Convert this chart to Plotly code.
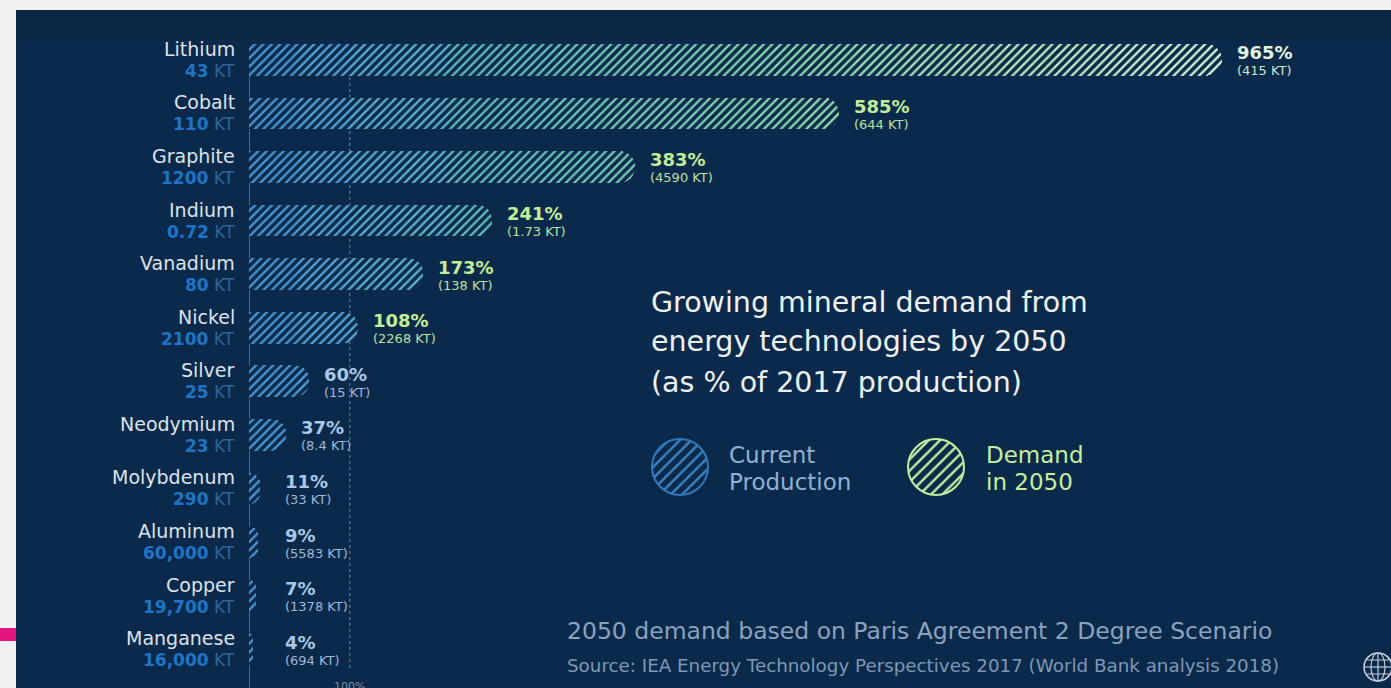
import plotly.graph_objects as go

# ---- data -------------------------------------------------------------
minerals = ["Lithium", "Cobalt", "Graphite", "Indium", "Vanadium", "Nickel",
            "Silver", "Neodymium", "Molybdenum", "Aluminum", "Copper", "Manganese"]
production_kt = ["43", "110", "1200", "0.72", "80", "2100",
                 "25", "23", "290", "60,000", "19,700", "16,000"]
demand_pct = [965, 585, 383, 241, 173, 108, 60, 37, 11, 9, 7, 4]
demand_kt = ["415", "644", "4590", "1.73", "138", "2268",
             "15", "8.4", "33", "5583", "1378", "694"]

# ---- canvas geometry --------------------------------------------------
FIG_W, FIG_H = 1391, 688
L, T = 249, 33
PW, PH = 1008, 643
R, B = FIG_W - L - PW, FIG_H - T - PH
XMAX = 1000

BG = "#0b2a4b"
FONT = "DejaVu Sans"


def px_x(px):
    return (px - L) / PW


def px_y(py):
    return (T + PH - py) / PH


def hex_rgb(h):
    h = h.lstrip("#")
    return tuple(int(h[i:i + 2], 16) for i in (0, 2, 4))


# colour ramp along the percentage axis (blue -> teal -> pale green)
STOPS = [(0, "#4690d6"), (100, "#58a8d8"), (250, "#62c0bc"),
         (500, "#82d6ac"), (750, "#b4eabb"), (1000, "#e2f8de")]


def ramp(v):
    for (a, ca), (b, cb) in zip(STOPS[:-1], STOPS[1:]):
        if a <= v <= b:
            t = (v - a) / (b - a)
            ra, rb = hex_rgb(ca), hex_rgb(cb)
            c = [round(x + (y - x) * t) for x, y in zip(ra, rb)]
            return "rgb(%d,%d,%d)" % tuple(c)
    return STOPS[-1][1]


def pct_color(v):
    if v >= 900:
        return "#e3f4da"
    if v >= 100:
        return "#c2ee97"
    return "#a9c7e6"


def sub_color(v):
    if v >= 900:
        return "#c9e6c6"
    if v >= 100:
        return "#b9e2a0"
    return "#9db9d8"


fig = go.Figure()

# hatched bars, split into colour bands so the stripes shift from blue to green
band = 50
for lo in range(0, XMAX, band):
    hi = lo + band
    seg = [max(0, min(v, hi) - lo) for v in demand_pct]
    fig.add_trace(go.Bar(
        y=minerals, x=seg, orientation="h",
        marker=dict(color=BG, line=dict(width=0),
                    pattern=dict(shape="/", fgcolor=ramp(lo + band / 2), fgopacity=1,
                                 bgcolor=BG, size=6, solidity=0.38)),
        hoverinfo="skip", showlegend=False,
    ))

# legend glyphs: hatched discs
for cx, col, edge in [(680, "#3d84c4", "#2f78bd"), (936, "#c4ee9f", "#c4ee9f")]:
    r = 28
    fig.add_trace(go.Pie(
        values=[1], sort=False, textinfo="none", hoverinfo="skip",
        showlegend=False,
        domain=dict(x=[px_x(cx - r), px_x(cx + r)], y=[px_y(467 + r), px_y(467 - r)]),
        marker=dict(colors=[BG], line=dict(color=edge, width=2),
                    pattern=dict(shape="/", fgcolor=col, fgopacity=1, bgcolor=BG,
                                 size=8, solidity=0.3)),
    ))

ann = []
for name, prod, pct, dem in zip(minerals, production_kt, demand_pct, demand_kt):
    ann.append(dict(x=px_x(237), xref="paper", y=name, yref="y", xanchor="right",
                    yanchor="middle", yshift=11, showarrow=False, text=name,
                    font=dict(family=FONT, size=19, color="#dbe3ec")))
    ann.append(dict(x=px_x(237), xref="paper", y=name, yref="y", xanchor="right",
                    yanchor="middle", yshift=-11, showarrow=False,
                    text="<b>%s</b> <span style='color:#2d6499'>KT</span>" % prod,
                    font=dict(family=FONT, size=17, color="#1f74c4")))
    lx = max(pct, 21)
    ann.append(dict(x=lx, xref="x", y=name, yref="y", xanchor="left", xshift=13,
                    yanchor="middle", yshift=7, showarrow=False,
                    text="<b>%d%%</b>" % pct,
                    font=dict(family=FONT, size=18, color=pct_color(pct))))
    ann.append(dict(x=lx, xref="x", y=name, yref="y", xanchor="left", xshift=13,
                    yanchor="middle", yshift=-11, showarrow=False,
                    text="(%s KT)" % dem,
                    font=dict(family=FONT, size=13, color=sub_color(pct))))

# headline
for i, line in enumerate(["Growing mineral demand from",
                          "energy technologies by 2050",
                          "(as % of 2017 production)"]):
    ann.append(dict(x=px_x(649), xref="paper", y=px_y(302 + 40 * i), yref="paper",
                    xanchor="left", yanchor="middle", showarrow=False, text=line,
                    font=dict(family=FONT, size=28.5, color="#eef2f7")))

# legend labels
for x0, lines, col in [(727, ["Current", "Production"], "#8eb1d6"),
                       (984, ["Demand", "in 2050"], "#c4ee9f")]:
    for i, line in enumerate(lines):
        ann.append(dict(x=px_x(x0), xref="paper", y=px_y(455 + 27 * i), yref="paper",
                        xanchor="left", yanchor="middle", showarrow=False, text=line,
                        font=dict(family=FONT, size=23, color=col)))

# footnotes
ann.append(dict(x=px_x(565), xref="paper", y=px_y(631), yref="paper", xanchor="left",
                yanchor="middle", showarrow=False,
                text="2050 demand based on Paris Agreement 2 Degree Scenario",
                font=dict(family=FONT, size=23.5, color="#8aa2be")))
ann.append(dict(x=px_x(565), xref="paper", y=px_y(665), yref="paper", xanchor="left",
                yanchor="middle", showarrow=False,
                text="Source: IEA Energy Technology Perspectives 2017 (World Bank analysis 2018)",
                font=dict(family=FONT, size=18.3, color="#7f98b5")))
# 100% marker label
ann.append(dict(x=100, xref="x", y=px_y(686), yref="paper", xanchor="center",
                yanchor="middle", showarrow=False, text="100%",
                font=dict(family=FONT, size=11, color="#7f93ab")))

shapes = [
    # navy panel
    dict(type="rect", xref="paper", yref="paper", x0=px_x(16), x1=px_x(FIG_W + 5),
         y0=px_y(FIG_H + 5), y1=px_y(10), fillcolor=BG, line=dict(width=0), layer="below"),
    # darker band at the top of the panel
    dict(type="rect", xref="paper", yref="paper", x0=px_x(16), x1=px_x(FIG_W + 5),
         y0=px_y(40), y1=px_y(10), fillcolor="#09243f", line=dict(width=0), layer="below",
         opacity=0.6),
    # pink tab on the left edge
    dict(type="rect", xref="paper", yref="paper", x0=px_x(0), x1=px_x(16),
         y0=px_y(641), y1=px_y(628), fillcolor="#e2157c", line=dict(width=0), layer="below"),
    # baseline axis
    dict(type="line", xref="x", yref="paper", x0=0, x1=0, y0=px_y(FIG_H + 2), y1=px_y(45),
         line=dict(color="#7890ab", width=1.2), layer="below"),
    # 100% reference
    dict(type="line", xref="x", yref="paper", x0=100, x1=100, y0=px_y(668), y1=px_y(77),
         line=dict(color="#6d86a2", width=1, dash="dot"), layer="below"),
    # globe emblem
    dict(type="circle", xref="paper", yref="paper", x0=px_x(1364), x1=px_x(1392),
         y0=px_y(681), y1=px_y(653), line=dict(color="#c3ccd6", width=1.6)),
    dict(type="circle", xref="paper", yref="paper", x0=px_x(1371), x1=px_x(1385),
         y0=px_y(681), y1=px_y(653), line=dict(color="#c3ccd6", width=1.2)),
    dict(type="line", xref="paper", yref="paper", x0=px_x(1378), x1=px_x(1378),
         y0=px_y(681), y1=px_y(653), line=dict(color="#c3ccd6", width=1.2)),
    dict(type="line", xref="paper", yref="paper", x0=px_x(1365), x1=px_x(1391),
         y0=px_y(667), y1=px_y(667), line=dict(color="#c3ccd6", width=1.2)),
    dict(type="line", xref="paper", yref="paper", x0=px_x(1367), x1=px_x(1389),
         y0=px_y(660), y1=px_y(660), line=dict(color="#c3ccd6", width=1)),
    dict(type="line", xref="paper", yref="paper", x0=px_x(1367), x1=px_x(1389),
         y0=px_y(674), y1=px_y(674), line=dict(color="#c3ccd6", width=1)),
]

fig.update_layout(
    width=FIG_W, height=FIG_H,
    margin=dict(l=L, r=R, t=T, b=B, pad=0),
    paper_bgcolor="#f1f1f1", plot_bgcolor="rgba(0,0,0,0)",
    barmode="stack", bargap=0.41, barcornerradius="50%",
    xaxis=dict(range=[0, XMAX], visible=False, fixedrange=True),
    yaxis=dict(type="category", categoryorder="array", categoryarray=minerals,
               range=[len(minerals) - 0.5, -0.5], visible=False, fixedrange=True),
    annotations=ann, shapes=shapes, showlegend=False,
)

fig.write_html("out.html")
